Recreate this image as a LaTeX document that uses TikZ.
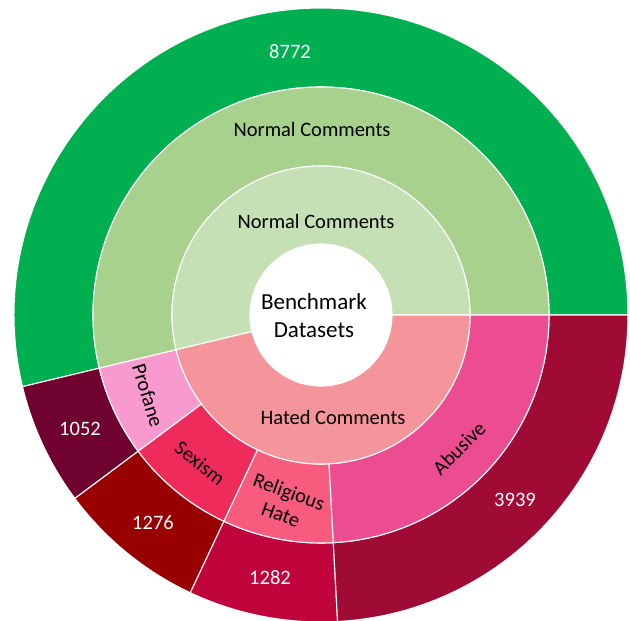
\documentclass[tikz,border=0pt]{standalone}
\usepackage{fontspec}
\setmainfont{Carlito}
\usetikzlibrary{calc}
\definecolor{ngA}{HTML}{C5E0B4}
\definecolor{ngB}{HTML}{A9D18E}
\definecolor{ngC}{HTML}{00B050}
\definecolor{hatA}{HTML}{F4959C}
\definecolor{profB}{HTML}{F99ACF}
\definecolor{sexB}{HTML}{EE2B5B}
\definecolor{relB}{HTML}{F75C7F}
\definecolor{abuB}{HTML}{EB4D90}
\definecolor{profC}{HTML}{6F022F}
\definecolor{sexC}{HTML}{990000}
\definecolor{relC}{HTML}{C0043C}
\definecolor{abuC}{HTML}{A00B35}
\newcommand\sbseg[5]{%
  \path[segstyle,fill=#1] ($(ctr)+(#2:#4)$) arc[start angle=#2,end angle=#3,radius=#4]
    -- ($(ctr)+(#3:#5)$) arc[start angle=#3,end angle=#2,radius=#5] -- cycle;}
\tikzset{
  segstyle/.style={draw=white,line width=1.1pt,line join=round},
  lbl/.style={font=\fontsize{20.5}{24}\selectfont,text=black,inner sep=0pt,align=center},
  num/.style={font=\fontsize{20.5}{24}\selectfont,text=white,inner sep=0pt},
  ctrlbl/.style={font=\fontsize{23}{28}\selectfont,text=black,inner sep=0pt,align=center}
}
\begin{document}
\begin{tikzpicture}[x=1pt,y=1pt]
\useasboundingbox (0,0) rectangle (630,621);
\coordinate (ctr) at (321,306);
% outer ring
\sbseg{ngC}{0}{193.5}{228}{307}
\sbseg{profC}{193.5}{216.7}{228}{307}
\sbseg{sexC}{216.7}{244.8}{228}{307}
\sbseg{relC}{244.8}{273.1}{228}{307}
\sbseg{abuC}{273.1}{360}{228}{307}
% middle ring
\sbseg{ngB}{0}{193.5}{149}{228}
\sbseg{profB}{193.5}{216.7}{149}{228}
\sbseg{sexB}{216.7}{244.8}{149}{228}
\sbseg{relB}{244.8}{273.1}{149}{228}
\sbseg{abuB}{273.1}{360}{149}{228}
% inner ring
\sbseg{ngA}{0}{193.5}{71}{149}
\sbseg{hatA}{193.5}{360}{71}{149}
\fill[white] (ctr) circle[radius=70.5];
% labels
\node[ctrlbl] (bd) at (314,305) {Benchmark\\Datasets};
\node[lbl] (nin) at (316,400) {Normal Comments};
\node[lbl] (hin) at (333,204) {Hated Comments};
\node[lbl] (nmid) at (312,492) {Normal Comments};
\node[lbl,rotate=-73] (prof) at (148,226) {Profane};
\node[lbl,rotate=-38] (sex) at (200,158) {Sexism};
\node[lbl,rotate=-20] (rel) at (285,118) {Religious\\Hate};
\node[lbl,rotate=45] (abu) at (459,173) {Abusive};
\node[num] (n8772) at (290,569) {8772};
\node[num] (n1052) at (80,192) {1052};
\node[num] (n1276) at (153,98) {1276};
\node[num] (n1282) at (270,43) {1282};
\node[num] (n3939) at (515,121) {3939};
\end{tikzpicture}
\end{document}
